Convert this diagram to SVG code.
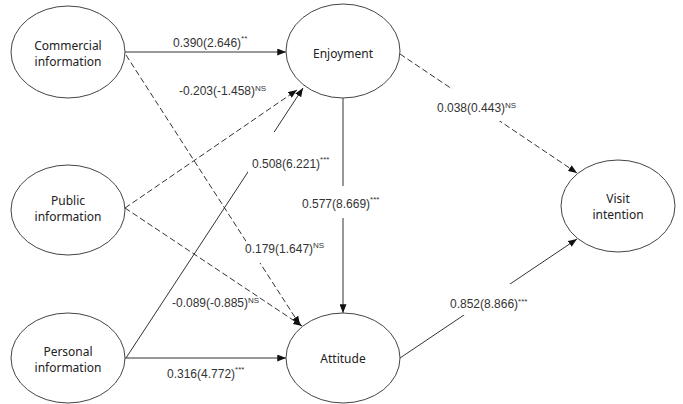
<svg xmlns="http://www.w3.org/2000/svg" width="683" height="404" viewBox="0 0 683 404">
  <style>
    .node ellipse { fill: #ffffff; stroke: #444444; stroke-width: 1; }
    .node text { font-family: "Noto Sans", "Liberation Sans", sans-serif; font-size: 12px; fill: #222222; text-anchor: middle; }
    .edge { stroke: #333333; stroke-width: 1; fill: none; marker-end: url(#arrow); }
    .dash { stroke-dasharray: 6 3; }
    .lbl { font-family: "Liberation Sans", Arial, sans-serif; font-size: 12px; fill: #333333; }
    .sup { font-size: 8px; }
    .mask { fill: #ffffff; }
  </style>
  <defs>
    <marker id="arrow" viewBox="0 0 10 8" refX="10" refY="4" markerWidth="9" markerHeight="7" markerUnits="userSpaceOnUse" orient="auto">
      <path d="M0,0 L10,4 L0,8 Z" fill="#111111"/>
    </marker>
  </defs>
  <rect width="683" height="404" fill="#ffffff"/>

  <g id="connectors">
    <line class="edge" x1="125" y1="52" x2="286" y2="52"/>
    <line class="edge dash" x1="125" y1="208" x2="297" y2="90"/>
    <line class="edge" x1="126" y1="358" x2="303" y2="88"/>
    <line class="edge dash" x1="126" y1="55" x2="300" y2="325"/>
    <line class="edge dash" x1="125" y1="208" x2="302" y2="326"/>
    <line class="edge" x1="343" y1="98" x2="343" y2="313"/>
    <line class="edge" x1="125" y1="358" x2="286" y2="358"/>
    <line class="edge dash" x1="400" y1="54" x2="577" y2="173"/>
    <line class="edge" x1="400" y1="358" x2="577" y2="239"/>
  </g>

  <g id="labels">
    <!-- white boxes behind the path coefficients break the lines they sit on -->
    <rect class="mask" x="177" y="80" width="96" height="27"/>
    <rect class="mask" x="248" y="132" width="90" height="45"/>
    <rect class="mask" x="300" y="186" width="90" height="32"/>
    <rect class="mask" x="246" y="238" width="82" height="25"/>
    <rect class="mask" x="436" y="89" width="84" height="32"/>
    <rect class="mask" x="448" y="284" width="90" height="31"/>

    <text class="lbl" x="173" y="47">0.390(2.646)<tspan class="sup" dy="-6">**</tspan></text>
    <text class="lbl" x="179" y="95">-0.203(-1.458)<tspan class="sup" dy="-4">NS</tspan></text>
    <text class="lbl" x="252" y="168">0.508(6.221)<tspan class="sup" dy="-6">***</tspan></text>
    <text class="lbl" x="302" y="208">0.577(8.669)<tspan class="sup" dy="-6">***</tspan></text>
    <text class="lbl" x="245" y="253">0.179(1.647)<tspan class="sup" dy="-5">NS</tspan></text>
    <text class="lbl" x="172" y="307">-0.089(-0.885)<tspan class="sup" dy="-4">NS</tspan></text>
    <text class="lbl" x="167" y="378">0.316(4.772)<tspan class="sup" dy="-6">***</tspan></text>
    <text class="lbl" x="437" y="112">0.038(0.443)<tspan class="sup" dy="-4">NS</tspan></text>
    <text class="lbl" x="450" y="308">0.852(8.866)<tspan class="sup" dy="-4">***</tspan></text>
  </g>

  <g id="commercial" class="node">
    <ellipse cx="68" cy="52" rx="57" ry="46"/>
    <text x="68" y="50">Commercial</text>
    <text x="68" y="66">information</text>
  </g>
  <g id="public" class="node">
    <ellipse cx="68" cy="210" rx="57" ry="45"/>
    <text x="68" y="205">Public</text>
    <text x="68" y="221">information</text>
  </g>
  <g id="personal" class="node">
    <ellipse cx="68" cy="358" rx="57" ry="45"/>
    <text x="68" y="356">Personal</text>
    <text x="68" y="372">information</text>
  </g>
  <g id="enjoyment" class="node">
    <ellipse cx="343" cy="51" rx="57" ry="47"/>
    <text x="343" y="58">Enjoyment</text>
  </g>
  <g id="attitude" class="node">
    <ellipse cx="343" cy="358" rx="57" ry="45"/>
    <text x="343" y="363">Attitude</text>
  </g>
  <g id="visit" class="node">
    <ellipse cx="618" cy="206" rx="57" ry="46"/>
    <text x="618" y="203">Visit</text>
    <text x="618" y="219">intention</text>
  </g>
</svg>
